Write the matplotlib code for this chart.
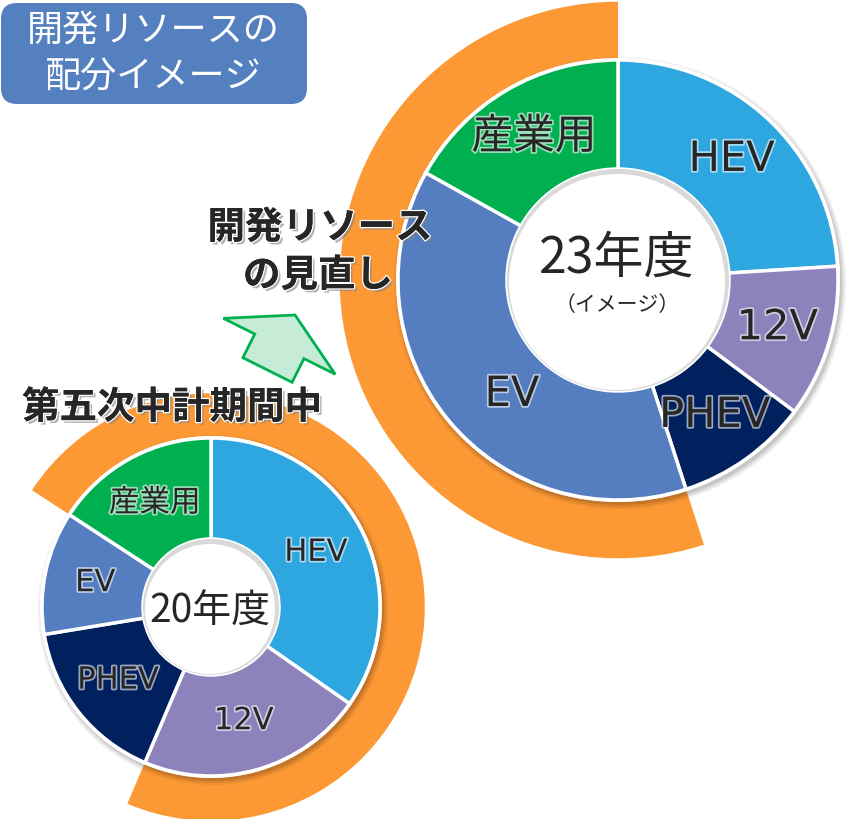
import matplotlib
matplotlib.use("Agg")
import matplotlib.pyplot as plt
import matplotlib.patheffects as pe
from matplotlib.patches import Wedge, Circle, FancyBboxPatch, FancyArrow

plt.rcParams['font.family'] = ['Noto Sans CJK JP', 'DejaVu Sans']
LATIN_FIRST = ['DejaVu Sans', 'Noto Sans CJK JP']

# --- data (share of development resources) ---
categories = ["HEV", "12V", "PHEV", "EV", "産業用"]
share_fy20 = [34.7, 21.7, 16.0, 11.8, 15.8]
share_fy23 = [24.0, 11.2, 9.8, 38.1, 16.9]
# orange arc: first and last highlighted segment, counter-clockwise
focus_fy20 = ("12V", "産業用")
focus_fy23 = ("産業用", "EV")

colors = {"HEV": "#2EA6DF", "12V": "#8E82BD", "PHEV": "#00205E",
          "EV": "#557EC1", "産業用": "#00B050"}
ORANGE = "#FD9935"
TXT = "#262626"

W, H = 848, 820
fig = plt.figure(figsize=(W / 100, H / 100), dpi=100)
ax = fig.add_axes([0, 0, 1, 1])
ax.set_xlim(0, W)
ax.set_ylim(0, H)
ax.set_aspect("equal")
ax.axis("off")

glow = [pe.withStroke(linewidth=2.5, foreground="white", alpha=0.6)]


def donut(center, radius, hole, values, focus, label_dist, label_size):
    cx, cy = center
    wedges, texts = ax.pie(
        values, labels=categories, colors=[colors[c] for c in categories],
        startangle=90, counterclock=False, center=center, radius=radius,
        labeldistance=label_dist, frame=True,
        wedgeprops=dict(width=radius - hole, edgecolor="white", linewidth=2.5, zorder=4),
        textprops=dict(fontsize=label_size, color=TXT, zorder=6, family=LATIN_FIRST))
    for t in texts:
        t.set_ha("center")
        t.set_va("center")
        t.set_path_effects(glow)

    # orange arc behind the highlighted segments
    by_name = dict(zip(categories, wedges))
    t1 = by_name[focus[0]].theta1
    t2 = by_name[focus[1]].theta2
    if t2 <= t1:
        t2 += 360
    outer = radius * 1.265
    ax.add_patch(Wedge((cx, cy), outer, t1, t2, width=outer - radius,
                       facecolor=ORANGE, edgecolor="none", zorder=1))

    # soft drop shadow of the ring
    for k, a in [(6, 0.06), (4, 0.08), (2, 0.10)]:
        ax.add_patch(Circle((cx + 2, cy - 3), radius + k, facecolor="black",
                            alpha=a, edgecolor="none", zorder=2))
    ax.add_patch(Circle((cx, cy), radius + 2, facecolor="white",
                        edgecolor="none", zorder=3))
    # hole with slight inner shadow
    ax.add_patch(Circle((cx, cy), hole, facecolor="#D9D9D9",
                        edgecolor="none", zorder=5))
    ax.add_patch(Circle((cx - 1, cy - 2), hole - 3, facecolor="white",
                        edgecolor="none", zorder=5))
    return texts


donut((211, H - 608), 169, 68, share_fy20, focus_fy20, 0.70, 22)
labels23 = donut((618, H - 281), 220, 111, share_fy23, focus_fy23, 0.755, 30)
# EV label sits a little lower than the wedge middle in the original
labels23[categories.index("EV")].set_position((512, H - 395))

ax.set_xlim(0, W)
ax.set_ylim(0, H)

# centre captions
ax.text(210, H - 612, "20年度", fontsize=28, color=TXT, ha="center",
        va="center", zorder=7)
ax.text(617, H - 259, "23年度", fontsize=36, color=TXT, ha="center",
        va="center", zorder=7)
ax.text(617, H - 305, "（イメージ）", fontsize=15, color=TXT, ha="center",
        va="center", zorder=7)

# title box
ax.add_patch(FancyBboxPatch((1, H - 105), 306, 101,
                            boxstyle="round,pad=0,rounding_size=16",
                            facecolor="#5580C0", edgecolor="none", zorder=8))
ax.text(153, H - 31, "開発リソースの", fontsize=26, color="white",
        ha="center", va="center", zorder=9)
ax.text(153, H - 78, "配分イメージ", fontsize=26, color="white",
        ha="center", va="center", zorder=9)

# bold headings with shadow
shadow = [pe.withSimplePatchShadow(offset=(2, -2), shadow_rgbFace="gray", alpha=0.6),
          pe.withStroke(linewidth=2, foreground="white"), pe.Normal()]
ax.text(320, H - 228, "開発リソース", fontsize=27, fontweight="bold",
        color=TXT, ha="center", va="center", zorder=9, path_effects=shadow)
ax.text(318, H - 276, "の見直し", fontsize=27, fontweight="bold",
        color=TXT, ha="center", va="center", zorder=9, path_effects=shadow)
ax.text(172, H - 408, "第五次中計期間中", fontsize=27, fontweight="bold",
        color=TXT, ha="center", va="center", zorder=9, path_effects=shadow)

# green block arrow
ax.add_patch(FancyArrow(267.5, H - 371, 27.5, 55, width=55, head_width=125,
                        head_length=35, length_includes_head=True,
                        facecolor="#C6EBD6", edgecolor="#00B050",
                        linewidth=2, zorder=8))

fig.savefig("out.png", dpi=100)
